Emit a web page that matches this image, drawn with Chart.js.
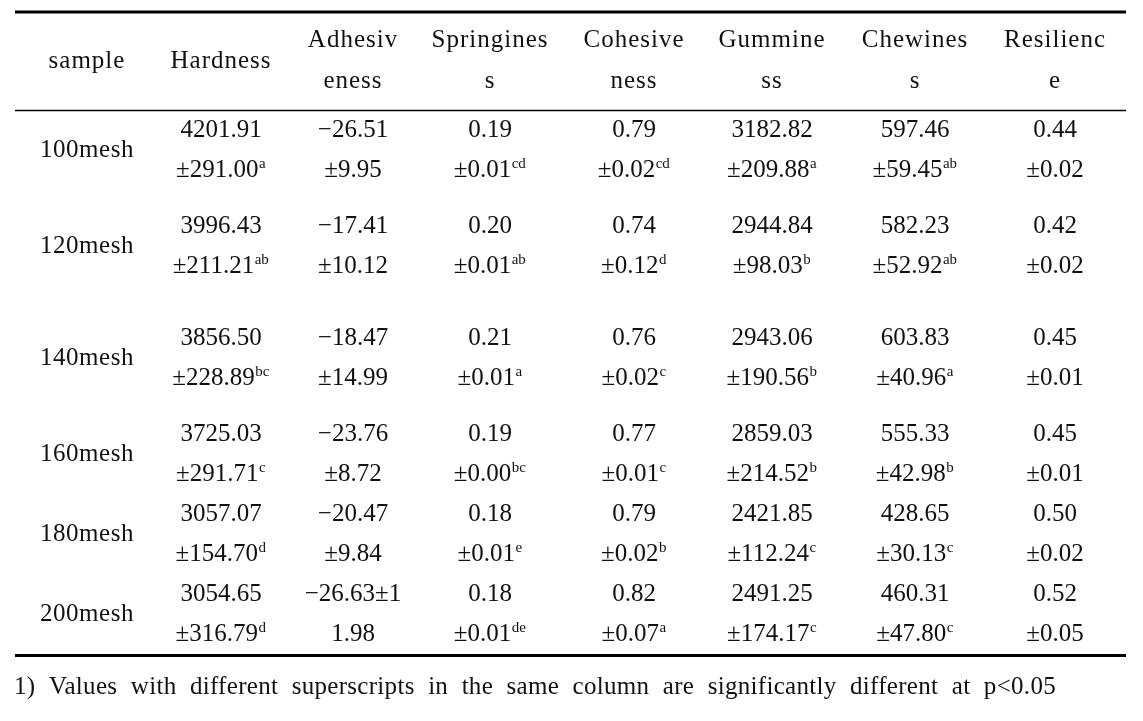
<!DOCTYPE html>
<html>
<head>
<meta charset="utf-8">
<script src="https://cdn.jsdelivr.net/npm/chart.js@4/dist/chart.umd.min.js"></script>
<style>
  html, body { margin: 0; padding: 0; background: #ffffff; }
  #c { display: block; }
</style>
</head>
<body>
<canvas id="c" width="1143" height="721"></canvas>
<script>
// ---------- DATA ----------
const samples = ['100mesh', '120mesh', '140mesh', '160mesh', '180mesh', '200mesh'];
const headers = [['sample'], ['Hardness'], ['Adhesiv', 'eness'], ['Springines', 's'],
                 ['Cohesive', 'ness'], ['Gummine', 'ss'], ['Chewines', 's'], ['Resilienc', 'e']];

const hardness        = [4201.91, 3996.43, 3856.50, 3725.03, 3057.07, 3054.65];
const hardnessSD      = [291.00, 211.21, 228.89, 291.71, 154.70, 316.79];
const hardnessSig     = ['a', 'ab', 'bc', 'c', 'd', 'd'];

const adhesiveness    = [-26.51, -17.41, -18.47, -23.76, -20.47, -26.63];
const adhesivenessSD  = [9.95, 10.12, 14.99, 8.72, 9.84, 11.98];
const adhesivenessSig = ['', '', '', '', '', ''];

const springiness     = [0.19, 0.20, 0.21, 0.19, 0.18, 0.18];
const springinessSD   = [0.01, 0.01, 0.01, 0.00, 0.01, 0.01];
const springinessSig  = ['cd', 'ab', 'a', 'bc', 'e', 'de'];

const cohesiveness    = [0.79, 0.74, 0.76, 0.77, 0.79, 0.82];
const cohesivenessSD  = [0.02, 0.12, 0.02, 0.01, 0.02, 0.07];
const cohesivenessSig = ['cd', 'd', 'c', 'c', 'b', 'a'];

const gumminess       = [3182.82, 2944.84, 2943.06, 2859.03, 2421.85, 2491.25];
const gumminessSD     = [209.88, 98.03, 190.56, 214.52, 112.24, 174.17];
const gumminessSig    = ['a', 'b', 'b', 'b', 'c', 'c'];

const chewiness       = [597.46, 582.23, 603.83, 555.33, 428.65, 460.31];
const chewinessSD     = [59.45, 52.92, 40.96, 42.98, 30.13, 47.80];
const chewinessSig    = ['ab', 'ab', 'a', 'b', 'c', 'c'];

const resilience      = [0.44, 0.42, 0.45, 0.45, 0.50, 0.52];
const resilienceSD    = [0.02, 0.02, 0.01, 0.01, 0.02, 0.05];
const resilienceSig   = ['', '', '', '', '', ''];

const footnote = '1) Values with different superscripts in the same column are significantly different at p<0.05';

const means = [hardness, adhesiveness, springiness, cohesiveness, gumminess, chewiness, resilience];
const sds   = [hardnessSD, adhesivenessSD, springinessSD, cohesivenessSD, gumminessSD, chewinessSD, resilienceSD];
const sigs  = [hardnessSig, adhesivenessSig, springinessSig, cohesivenessSig, gumminessSig, chewinessSig, resilienceSig];

// ---------- LAYOUT (positions in page units) ----------
const COL_X = [87, 221, 353, 490, 634, 772, 915, 1055];
const ROW_Y = [150, 246, 358, 454, 534, 614];   // centre of each sample row
const HEADER_Y = 61;
const LINE_GAP = 40;
const RULES = { left: 15, right: 1126, top: 12, head: 110.5, bottom: 655.5 };
const FOOT = { left: 14, right: 1056, y: 687 };
const FLOW_CELLS = [[5, 1]];  // cells typed as one run and wrapped by width
const FLOW_WIDTH = 104;

const FONT_FAMILY = '"Liberation Serif", "Times New Roman", serif';
const MAIN_FONT = '25px ' + FONT_FAMILY;
const SUP_FONT = '15px ' + FONT_FAMILY;
const FOOT_FONT = '25px ' + FONT_FAMILY;

function fmt(v) {
  const s = Math.abs(v).toFixed(2);
  return v < 0 ? '\u2212' + s : s;
}

// one dataset per table column: points sit in each cell centre
const datasets = [];
datasets.push({
  label: 'sample',
  data: samples.map((s, r) => ({ x: COL_X[0], y: ROW_Y[r], cell: [[s, '']] })),
  pointRadius: 0
});
means.forEach((arr, c) => {
  datasets.push({
    label: headers[c + 1].join(''),
    data: arr.map((m, r) => {
      let lines = [[fmt(m), ''], ['\u00B1' + sds[c][r].toFixed(2), sigs[c][r]]];
      if (FLOW_CELLS.some(p => p[0] === r && p[1] === c)) {
        lines = [[fmt(m) + '\u00B1' + sds[c][r].toFixed(2), sigs[c][r]]];
        lines.flow = true;
      }
      return { x: COL_X[c + 1], y: ROW_Y[r], cell: lines };
    }),
    pointRadius: 0
  });
});

function drawRun(ctx, cx, cy, text, sup) {
  ctx.font = MAIN_FONT;
  const w1 = ctx.measureText(text).width;
  ctx.font = SUP_FONT;
  const w2 = sup ? ctx.measureText(sup).width + 1 : 0;
  const x0 = cx - (w1 + w2) / 2;
  ctx.font = MAIN_FONT;
  ctx.textAlign = 'left';
  ctx.textBaseline = 'middle';
  ctx.fillText(text, x0, cy);
  if (sup) {
    ctx.font = SUP_FONT;
    ctx.textBaseline = 'alphabetic';
    ctx.fillText(sup, x0 + w1 + 0.5, cy - 2.5);
  }
}

function wrapByWidth(ctx, text, maxW) {
  ctx.font = MAIN_FONT;
  const out = [];
  let cur = '';
  for (const ch of text) {
    if (cur && ctx.measureText(cur + ch).width > maxW) { out.push(cur); cur = ch; }
    else cur += ch;
  }
  if (cur) out.push(cur);
  return out;
}

const tablePlugin = {
  id: 'tablePlugin',
  beforeDraw(chart) {
    const ctx = chart.ctx;
    ctx.save();
    ctx.fillStyle = '#ffffff';
    ctx.fillRect(0, 0, chart.width, chart.height);
    ctx.restore();
  },
  afterDatasetsDraw(chart) {
    const ctx = chart.ctx;
    const xs = chart.scales.x, ys = chart.scales.y;
    ctx.save();
    ctx.fillStyle = '#111111';
    ctx.strokeStyle = '#000000';

    // rules
    const L = xs.getPixelForValue(RULES.left), R = xs.getPixelForValue(RULES.right);
    ctx.lineWidth = 3;
    [RULES.top, RULES.bottom].forEach(v => {
      const y = ys.getPixelForValue(v);
      ctx.beginPath(); ctx.moveTo(L, y); ctx.lineTo(R, y); ctx.stroke();
    });
    ctx.lineWidth = 1.5;
    ctx.beginPath();
    ctx.moveTo(L, ys.getPixelForValue(RULES.head));
    ctx.lineTo(R, ys.getPixelForValue(RULES.head));
    ctx.stroke();

    // header
    headers.forEach((lines, c) => {
      const cx = xs.getPixelForValue(COL_X[c]);
      lines.forEach((t, i) => {
        const off = (i - (lines.length - 1) / 2) * (LINE_GAP + 1);
        ctx.letterSpacing = '1px';
        drawRun(ctx, cx, ys.getPixelForValue(HEADER_Y + off), t, '');
        ctx.letterSpacing = '0px';
      });
    });

    // body cells from dataset elements
    chart.data.datasets.forEach((ds, di) => {
      const meta = chart.getDatasetMeta(di);
      meta.data.forEach((el, r) => {
        const cell = ds.data[r].cell;
        let lines = cell;
        if (cell.flow) {
          lines = wrapByWidth(ctx, cell[0][0], FLOW_WIDTH).map(t => [t, '']);
        }
        lines.forEach((ln, i) => {
          const off = (i - (lines.length - 1) / 2) * LINE_GAP;
          if (di === 0) ctx.letterSpacing = '0.5px';
          drawRun(ctx, el.x, el.y + off, ln[0], ln[1]);
          ctx.letterSpacing = '0px';
        });
      });
    });

    // footnote, spread across the table width
    ctx.font = FOOT_FONT;
    ctx.letterSpacing = '0.3px';
    ctx.textAlign = 'left';
    ctx.textBaseline = 'middle';
    const words = footnote.split(' ');
    const fl = xs.getPixelForValue(FOOT.left), fr = xs.getPixelForValue(FOOT.right);
    const total = words.reduce((a, w) => a + ctx.measureText(w).width, 0);
    const gap = (fr - fl - total) / (words.length - 1);
    let x = fl;
    const fy = ys.getPixelForValue(FOOT.y);
    words.forEach(w => { ctx.fillText(w, x, fy); x += ctx.measureText(w).width + gap; });
    ctx.letterSpacing = '0px';
    ctx.restore();
  }
};

new Chart(document.getElementById('c'), {
  type: 'scatter',
  data: { datasets },
  options: {
    responsive: false,
    animation: false,
    devicePixelRatio: 1,
    layout: { padding: 0 },
    plugins: { legend: { display: false }, tooltip: { enabled: false }, title: { display: false } },
    events: [],
    scales: {
      x: { type: 'linear', min: 0, max: 1143, display: false },
      y: { type: 'linear', min: 0, max: 721, reverse: true, display: false }
    }
  },
  plugins: [tablePlugin]
});
</script>
</body>
</html>
